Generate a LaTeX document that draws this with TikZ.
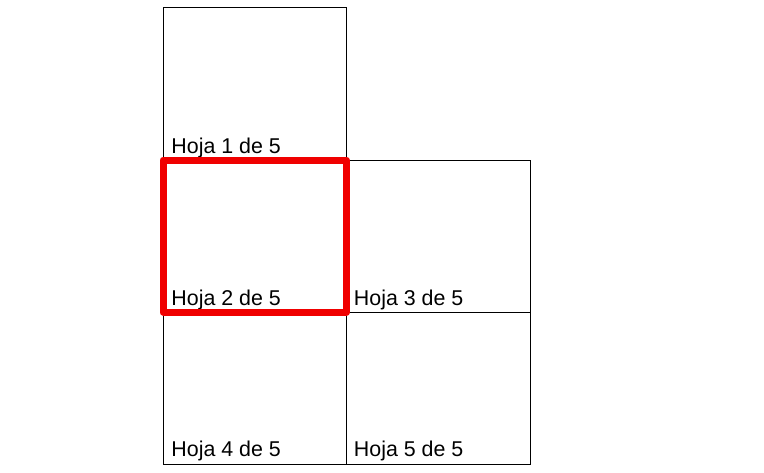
\documentclass[tikz,border=0pt]{standalone}
\usepackage{fontspec}
\setmainfont{Liberation Sans}
\usetikzlibrary{positioning}
\definecolor{selred}{RGB}{240,0,0}

\begin{document}
\begin{tikzpicture}[x=0.5pt, y=0.5pt,
    cell/.style={draw, line width=0.5pt, minimum width=91.75pt, minimum height=76pt,
                 inner sep=0pt, outer sep=0pt},
    lbl/.style={anchor=base west, inner sep=0pt, font=\fontsize{10.7pt}{12pt}\selectfont},
    sel/.style={draw=selred, line width=3.5pt, line join=round},
  ]
    \useasboundingbox (0,0) rectangle (764,472);
    \node[cell] (h1) at (254.75,388) {};
    \node[cell, below=0pt of h1] (h2) {};
    \node[cell, right=0pt of h2] (h3) {};
    \node[cell, below=0pt of h2] (h4) {};
    \node[cell, right=0pt of h4] (h5) {};
    \node[lbl] (t1) at ([xshift=4pt,yshift=3.5pt]h1.south west) {Hoja 1 de 5};
    \node[lbl] (t2) at ([xshift=4pt,yshift=3.5pt]h2.south west) {Hoja 2 de 5};
    \node[lbl] (t3) at ([xshift=3.5pt,yshift=3.5pt]h3.south west) {Hoja 3 de 5};
    \node[lbl] (t4) at ([xshift=4pt,yshift=4pt]h4.south west) {Hoja 4 de 5};
    \node[lbl] (t5) at ([xshift=3.5pt,yshift=4pt]h5.south west) {Hoja 5 de 5};
    % selected sheet
    \draw[sel] (h2.south west) rectangle (h2.north east);
  \end{tikzpicture}
\end{document}
